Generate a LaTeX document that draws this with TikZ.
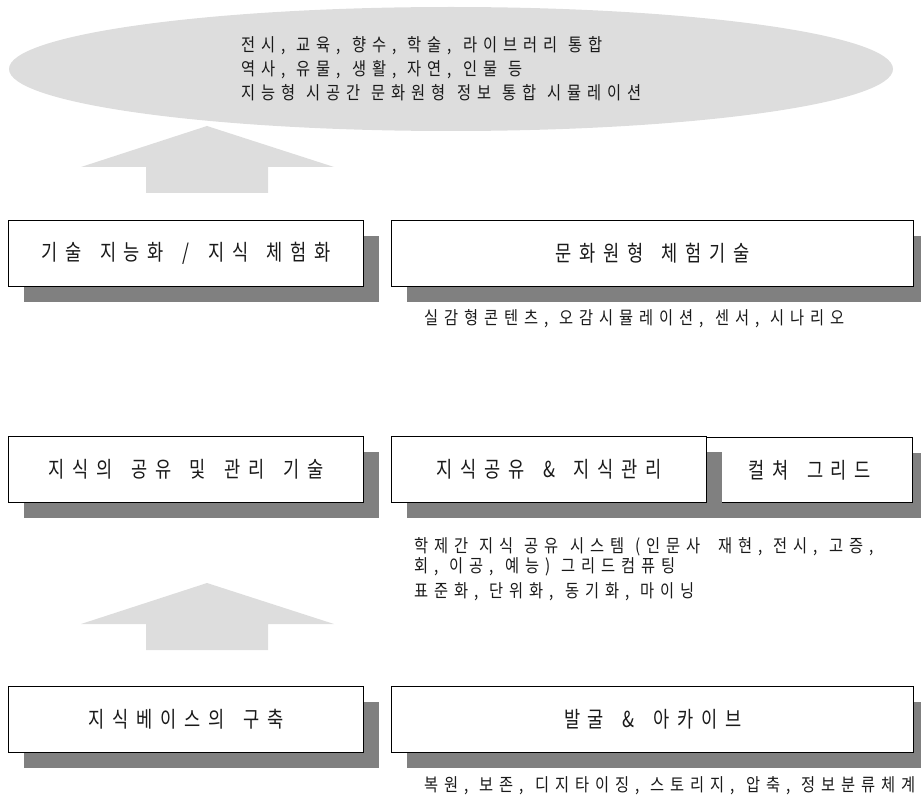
\documentclass[tikz,border=0pt]{standalone}
\usepackage{fontspec}
\setmainfont{Noto Sans CJK KR}
\newfontfamily\boxfont[FakeStretch=0.8,LetterSpace=35,WordSpace=1.6]{Noto Sans CJK KR}
\newfontfamily\capfont[FakeStretch=0.85,LetterSpace=33,WordSpace=1.2]{Noto Sans CJK KR}
\usetikzlibrary{shapes.geometric,shadows}
\definecolor{ellgray}{HTML}{DDDDDD}
\definecolor{shgray}{HTML}{808080}
\definecolor{txt}{HTML}{1A1A1A}
\begin{document}
\begin{tikzpicture}[x=1pt,y=-1pt,
  stepbox/.style={draw=black, line width=1.3pt, fill=white, inner sep=0pt,
    anchor=north west, minimum height=66pt, text=txt,
    font=\boxfont\fontsize{22}{26}\selectfont,
    drop shadow={shadow xshift=15pt, shadow yshift=-15pt, fill=shgray, opacity=1}},
  caption/.style={anchor=west, inner sep=0pt, text=txt,
    font=\capfont\fontsize{18}{20}\selectfont, align=left},
  uparrow/.style={fill=ellgray, draw=none}]
\useasboundingbox (0,0) rectangle (921,805);

% top ellipse
\node[ellipse, fill=ellgray, draw=none, inner sep=0pt,
      minimum width=884pt, minimum height=124pt] (goal) at (451,69) {};
\node[caption, font=\capfont\fontsize{18}{24}\selectfont] (goaltext) at (241,69)
  {전시, 교육, 향수, 학술, 라이브러리 통합\\
   역사, 유물, 생활, 자연, 인물 등\\
   지능형 시공간 문화원형 정보 통합 시뮬레이션};

% arrows
\fill[uparrow] (207,126) -- (334,167) -- (268,167) -- (268,193) -- (146,193)
  -- (146,167) -- (81,167) -- cycle;
\fill[uparrow] (207,583) -- (334,624) -- (268,624) -- (268,650) -- (146,650)
  -- (146,624) -- (81,624) -- cycle;

% row 1
\node[stepbox, minimum width=355pt] (r1a) at (8,220) {기술 지능화 / 지식 체험화};
\node[stepbox, minimum width=522pt] (r1b) at (391,220) {문화원형 체험기술};
\node[caption] (c1) at (424,319) {실감형콘텐츠, 오감시뮬레이션, 센서, 시나리오};

% row 2
\node[stepbox, minimum width=355pt] (r2a) at (8,436) {지식의 공유 및 관리 기술};
\node[stepbox, minimum width=206pt, minimum height=65pt] (r2c) at (706,437) {컬쳐 그리드};
\node[stepbox, minimum width=315pt] (r2b) at (391,436) {지식공유 \& 지식관리};
\node[caption, anchor=north west] (c2) at (414,537)
  {학제간 지식 공유 시스템 (인문사\hspace{6pt} 재현, 전시, 고증,\\
   회, 이공, 예능) 그리드컴퓨팅\\[5pt]
   표준화, 단위화, 동기화, 마이닝};

% row 3
\node[stepbox, minimum width=355pt] (r3a) at (8,686) {지식베이스의 구축};
\node[stepbox, minimum width=522pt] (r3b) at (391,686) {발굴 \& 아카이브};
\node[caption] (c3) at (424,786) {복원, 보존, 디지타이징, 스토리지, 압축, 정보분류체계};
\end{tikzpicture}
\end{document}
